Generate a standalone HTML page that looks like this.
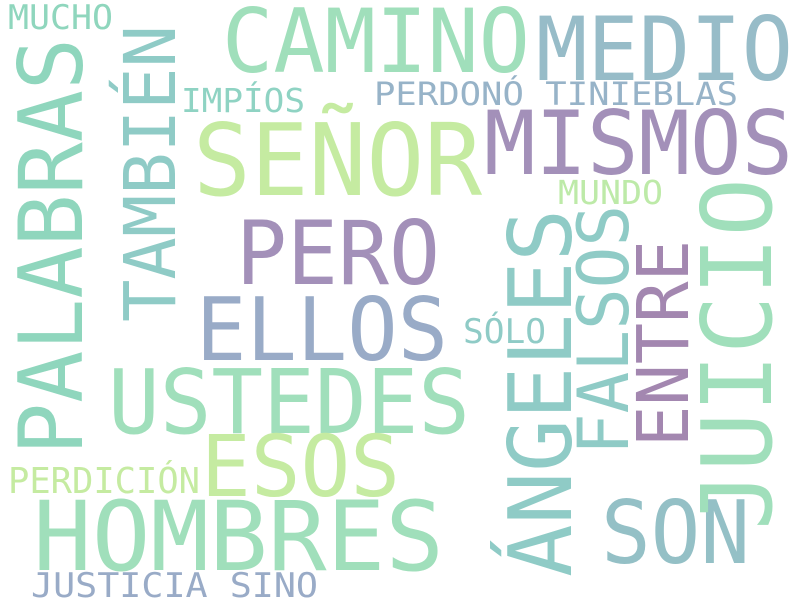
<!DOCTYPE html>
<html><head><meta charset="utf-8"><style>
html,body{margin:0;padding:0;background:#fff;}
svg{display:block;}
text{font-family:"DejaVu Sans Mono","Liberation Mono",monospace;}
</style></head><body>
<svg width="800" height="600" viewBox="0 0 800 600">
<rect width="800" height="600" fill="#fff"/>
<text x="8" y="29" font-size="34" textLength="105" lengthAdjust="spacingAndGlyphs" fill="#8fd6bd">MUCHO</text>
<text x="222" y="72" font-size="88" textLength="308" lengthAdjust="spacingAndGlyphs" fill="#a0dfbb">CAMINO</text>
<text x="536" y="80" font-size="88" textLength="257" lengthAdjust="spacingAndGlyphs" fill="#97bcc8">MEDIO</text>
<text x="181" y="112" font-size="33" textLength="124" lengthAdjust="spacingAndGlyphs" fill="#8fd3c3">IMPÍOS</text>
<text x="374" y="105" font-size="32" textLength="364" lengthAdjust="spacingAndGlyphs" fill="#97b3c8">PERDONÓ TINIEBLAS</text>
<text x="193" y="195" font-size="100" textLength="289" lengthAdjust="spacingAndGlyphs" fill="#c5eba1">SEÑOR</text>
<text x="484" y="174" font-size="88" textLength="309" lengthAdjust="spacingAndGlyphs" fill="#a390b9">MISMOS</text>
<text x="558" y="204" font-size="33" textLength="105" lengthAdjust="spacingAndGlyphs" fill="#bdeaa8">MUNDO</text>
<text x="236" y="284" font-size="88" textLength="204" lengthAdjust="spacingAndGlyphs" fill="#a390b9">PERO</text>
<text x="196" y="360" font-size="87" textLength="252" lengthAdjust="spacingAndGlyphs" fill="#99abc7">ELLOS</text>
<text x="463" y="343" font-size="34" textLength="83" lengthAdjust="spacingAndGlyphs" fill="#8fcbc6">SÓLO</text>
<text x="108" y="433" font-size="89" textLength="362" lengthAdjust="spacingAndGlyphs" fill="#a0dfbb">USTEDES</text>
<text x="201" y="496" font-size="85" textLength="199" lengthAdjust="spacingAndGlyphs" fill="#c5eba1">ESOS</text>
<text x="8" y="493" font-size="36" textLength="192" lengthAdjust="spacingAndGlyphs" fill="#c5eba1">PERDICIÓN</text>
<text x="33" y="570" font-size="96" textLength="411" lengthAdjust="spacingAndGlyphs" fill="#a0dfbb">HOMBRES</text>
<text x="31" y="597" font-size="34" textLength="287" lengthAdjust="spacingAndGlyphs" fill="#99abc7">JUSTICIA SINO</text>
<text x="601" y="563" font-size="87" textLength="149" lengthAdjust="spacingAndGlyphs" fill="#94c0c6">SON</text>
<text transform="translate(82,455) rotate(-90)" x="0" y="0" font-size="88" textLength="417" lengthAdjust="spacingAndGlyphs" fill="#8fd6bd">PALABRAS</text>
<text transform="translate(175,322) rotate(-90)" x="0" y="0" font-size="71" textLength="297" lengthAdjust="spacingAndGlyphs" fill="#8fcbc6">TAMBIÉN</text>
<text transform="translate(571,577) rotate(-90)" x="0" y="0" font-size="87" textLength="368" lengthAdjust="spacingAndGlyphs" fill="#8fcbc6">ÁNGELES</text>
<text transform="translate(628,455) rotate(-90)" x="0" y="0" font-size="70" textLength="250" lengthAdjust="spacingAndGlyphs" fill="#8fcbc6">FALSOS</text>
<text transform="translate(688,447) rotate(-90)" x="0" y="0" font-size="71" textLength="207" lengthAdjust="spacingAndGlyphs" fill="#a387b0">ENTRE</text>
<text transform="translate(771,530) rotate(-90)" x="0" y="0" font-size="97" textLength="352" lengthAdjust="spacingAndGlyphs" fill="#a0dfbb">JUICIO</text>
</svg>
</body></html>
